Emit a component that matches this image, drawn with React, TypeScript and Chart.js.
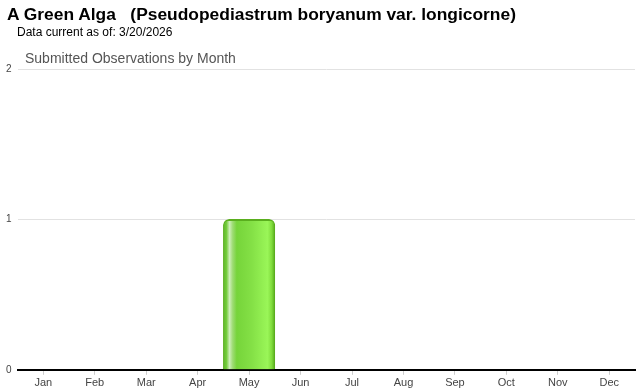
import React, { useEffect, useRef } from "react";
import { Chart, registerables } from "chart.js";
Chart.register(...registerables);

const titleText = "A Green Alga   (Pseudopediastrum boryanum var. longicorne)";
const subText = "Data current as of: 3/20/2026";
const chartTitle = "Submitted Observations by Month";
const months = ["Jan", "Feb", "Mar", "Apr", "May", "Jun", "Jul", "Aug", "Sep", "Oct", "Nov", "Dec"];
const observations = [0, 0, 0, 0, 1, 0, 0, 0, 0, 0, 0, 0];
const yTicks = [0, 1, 2];

function barFill(c: any) {
  const chart = c.chart;
  const xs = chart.scales && chart.scales.x;
  if (!xs || !chart.chartArea || c.dataIndex === undefined) return "#7ed63a";
  const w = (chart.chartArea.right - chart.chartArea.left) / months.length;
  const cx = xs.getPixelForValue(c.dataIndex);
  const left = cx - w / 2;
  if (!isFinite(left) || !isFinite(w)) return "#7ed63a";
  const g = chart.ctx.createLinearGradient(left, 0, left + w, 0);
  g.addColorStop(0, "#5cb628");
  g.addColorStop(0.06, "#74cc3c");
  g.addColorStop(0.12, "#cdeeb8");
  g.addColorStop(0.18, "#9edc74");
  g.addColorStop(0.26, "#76d43a");
  g.addColorStop(0.55, "#84e046");
  g.addColorStop(0.86, "#9af658");
  g.addColorStop(0.94, "#80dc3c");
  g.addColorStop(1, "#56aa1c");
  return g;
}

export default function App() {
  const ref = useRef<HTMLCanvasElement>(null);
  useEffect(() => {
    const chart = new Chart(ref.current!, {
      type: "bar",
      data: {
        labels: months,
        datasets: [
          {
            data: observations,
            backgroundColor: barFill,
            borderColor: "#5aae1e",
            borderWidth: { top: 2, left: 1, right: 1, bottom: 0 },
            borderSkipped: "bottom",
            borderRadius: { topLeft: 6, topRight: 6, bottomLeft: 0, bottomRight: 0 },
            barPercentage: 1,
            categoryPercentage: 1,
          },
        ],
      },
      options: {
        animation: false,
        responsive: false,
        maintainAspectRatio: false,
        layout: { padding: { top: 69, right: 5, left: 0, bottom: 0 } },
        plugins: { legend: { display: false }, tooltip: { enabled: false }, title: { display: false } },
        scales: {
          x: {
            grid: { display: true, drawOnChartArea: false, drawTicks: true, tickLength: 5, color: "#cccccc", offset: false },
            border: { display: true, color: "#000000", width: 2 },
            ticks: { color: "#444444", font: { family: "Liberation Sans, Arial", size: 11 }, padding: 2 },
          },
          y: {
            min: 0,
            max: 2,
            afterBuildTicks: (s: any) => { s.ticks = yTicks.map((v) => ({ value: v })); },
            grid: { color: "#e2e2e2", drawTicks: false },
            border: { display: false },
            ticks: { color: "#444444", font: { family: "Liberation Sans, Arial", size: 10 }, padding: 6 },
          },
        },
      },
    });
    return () => chart.destroy();
  }, []);
  return (
    <div style={{ position: "absolute", left: 0, top: 0, width: 640, height: 390, overflow: "hidden", background: "#fff" }}>
      <canvas ref={ref} width={640} height={392} style={{ position: "absolute", left: 0, top: 0 }} />
      <div style={{ position: "absolute", left: 7, top: 4, font: "bold 17.4px 'Liberation Sans', Arial", whiteSpace: "pre", color: "#000" }}>{titleText}</div>
      <div style={{ position: "absolute", left: 17, top: 25, font: "12px 'Liberation Sans', Arial", color: "#000" }}>{subText}</div>
      <div style={{ position: "absolute", left: 25, top: 50, font: "14px 'Liberation Sans', Arial", color: "#555" }}>{chartTitle}</div>
    </div>
  );
}
